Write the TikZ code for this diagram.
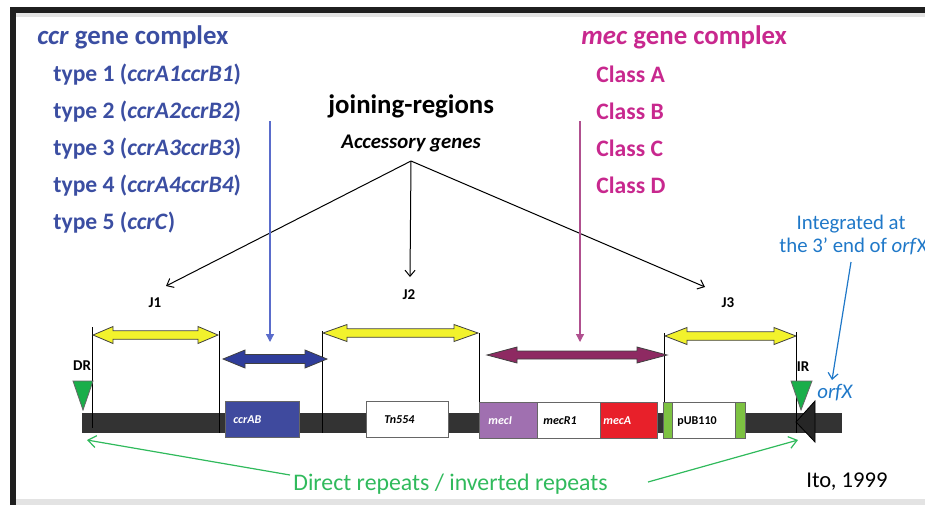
\documentclass[tikz,border=0pt]{standalone}
\usepackage{fontspec}
\setmainfont{Carlito}
\usetikzlibrary{arrows.meta}

\definecolor{ccrblue}{HTML}{3B4EA2}
\definecolor{ccrline}{HTML}{5A6CCB}
\definecolor{mecpink}{HTML}{C8288E}
\definecolor{mecline}{HTML}{B0508F}
\definecolor{orfblue}{HTML}{1F78C8}
\definecolor{repgreen}{HTML}{30BA5C}
\definecolor{trigreen}{HTML}{1AAE4A}
\definecolor{barcol}{HTML}{333333}
\definecolor{jyellow}{HTML}{F2F22C}
\definecolor{ccrarrow}{HTML}{2F3D9B}
\definecolor{mecarrow}{HTML}{8E2A62}
\definecolor{ccrbox}{HTML}{3F4A9E}
\definecolor{mecibox}{HTML}{A070B0}
\definecolor{mecabox}{HTML}{E8202A}
\definecolor{pubgreen}{HTML}{7DC242}

% double headed block arrow: fill, left x, right x, y, head length, head half width
\newcommand{\dblarrow}[6]{%
  \filldraw[fill=#1, draw=black!75, line width=0.4pt]
    (#2,#4) -- ++(#5,-#6) -- ++(0,{#6/2}) -- ({#3-#5},{#4-#6/2}) -- ++(0,{-#6/2})
    -- (#3,#4) -- ++(-#5,#6) -- ++(0,{-#6/2}) -- ({#2+#5},{#4+#6/2}) -- ++(0,{#6/2}) -- cycle;}

\tikzset{
  head/.style={anchor=base west, inner sep=0pt, font=\fontsize{13.4}{15}\selectfont\bfseries},
  item/.style={anchor=base west, inner sep=0pt, font=\fontsize{11.8}{14}\selectfont\bfseries},
  jlabel/.style={inner sep=0pt, font=\fontsize{7.5}{9}\selectfont\bfseries},
  genelabel/.style={anchor=base west, inner sep=0pt, font=\fontsize{6}{7}\selectfont\bfseries\itshape},
  genebox/.style={draw=black!60, line width=0.4pt},
  bound/.style={black, line width=0.4pt},
  pointer/.style={black, line width=0.5pt, -{Straight Barb[length=3pt,width=5pt]}},
  greenpointer/.style={repgreen, line width=0.6pt, -{Straight Barb[length=4pt,width=6pt]}},
}

\begin{document}
\begin{tikzpicture}[x=0.5pt,y=-0.5pt]
\useasboundingbox (0,0) rectangle (925,505);

% slide frame
\fill[black!88] (10,7) rectangle (925,13);
\fill[black!88] (10,7) rectangle (16,505);
\fill[gray!22] (16,13) rectangle (925,17);
\fill[gray!22] (16,499) rectangle (925,505);

% ccr gene complex
\node[head, text=ccrblue] (ccrhead) at (37,44) {\textit{ccr} gene complex};
\node[item, text=ccrblue] (type1) at (53,81) {type 1 (\textit{ccrA1ccrB1})};
\node[item, text=ccrblue] (type2) at (53,118) {type 2 (\textit{ccrA2ccrB2})};
\node[item, text=ccrblue] (type3) at (53,155) {type 3 (\textit{ccrA3ccrB3})};
\node[item, text=ccrblue] (type4) at (53,192) {type 4 (\textit{ccrA4ccrB4})};
\node[item, text=ccrblue] (type5) at (53,229) {type 5 (\textit{ccrC})};

% mec gene complex
\node[head, text=mecpink] (mechead) at (581,44) {\textit{mec} gene complex};
\node[item, text=mecpink] (classA) at (596,82) {Class A};
\node[item, text=mecpink] (classB) at (596,119) {Class B};
\node[item, text=mecpink] (classC) at (596,156) {Class C};
\node[item, text=mecpink] (classD) at (596,193) {Class D};

% joining regions
\node[head] (jr) at (328,113) {joining-regions};
\node[anchor=base west, inner sep=0pt, font=\fontsize{10.4}{12}\selectfont\bfseries\itshape] (acc) at (341,148) {Accessory genes};
\coordinate (apex) at (411,161);
\coordinate (j1tip) at (166,286);
\coordinate (j2tip) at (410,277);
\coordinate (j3tip) at (705,287);
\draw[pointer] (apex) -- (j1tip);
\draw[pointer] (apex) -- (j2tip);
\draw[pointer] (apex) -- (j3tip);

\node[jlabel] (j1) at (155,303) {J1};
\node[jlabel] (j2) at (409,295) {J2};
\node[jlabel] (j3) at (728,303) {J3};

% pointers from the complexes
\coordinate (ccrtop) at (270,121);
\coordinate (ccrtip) at (270,342);
\coordinate (mectop) at (580,121);
\coordinate (mectip) at (580,342);
\draw[ccrline, line width=0.6pt, -{Triangle[length=4pt,width=4pt]}] (ccrtop) -- (ccrtip);
\draw[mecline, line width=0.6pt, -{Triangle[length=4pt,width=4pt]}] (mectop) -- (mectip);

% integration site
\node[inner sep=0pt, anchor=base, text=orfblue, font=\fontsize{10.4}{12}\selectfont] (integ) at (851,229) {Integrated at};
\node[inner sep=0pt, anchor=base west, text=orfblue, font=\fontsize{10.4}{12}\selectfont] (end3) at (779,252) {the 3’ end of \textit{orf}X};
\coordinate (orftop) at (851,262);
\coordinate (orftip) at (832,380);
\draw[orfblue, line width=0.6pt, -{Straight Barb[length=3pt,width=5pt]}] (orftop) -- (orftip);

% the chromosome
\fill[barcol] (82,413) rectangle (842,433);
\draw[bound] (92,327) -- (92,428);
\draw[bound] (219,331) -- (219,433);
\draw[bound] (322,331) -- (322,433);
\draw[bound] (479,333) -- (479,413);
\draw[bound] (664,333) -- (664,433);

% regions
\dblarrow{jyellow}{93}{218}{335}{20}{8.5}
\dblarrow{jyellow}{323}{478}{333}{24}{8.5}
\dblarrow{jyellow}{665}{796}{336}{22}{8.5}
\dblarrow{ccrarrow}{223}{327}{359}{22}{9}
\dblarrow{mecarrow}{487}{667}{355}{30}{8}

% genes
\filldraw[genebox, fill=ccrbox] (225,401) rectangle (299,437);
\node[genelabel, text=white] (ccrab) at (233,423) {ccrAB};
\filldraw[genebox, fill=white] (366,401) rectangle (448,437);
\node[genelabel] (tn) at (384,423) {Tn554};
\filldraw[genebox, fill=mecibox] (479,402) rectangle (537,438);
\node[genelabel, text=white] (meci) at (488,424) {mecI};
\filldraw[genebox, fill=white] (537,402) rectangle (600,438);
\node[genelabel] (mecr) at (543,424) {mecR1};
\filldraw[genebox, fill=mecabox] (600,402) rectangle (657,438);
\node[genelabel, text=white] (meca) at (603,424) {mecA};
\filldraw[genebox, fill=pubgreen] (663,402) rectangle (672,438);
\filldraw[genebox, fill=white] (672,402) rectangle (735,438);
\filldraw[genebox, fill=pubgreen] (735,402) rectangle (745,438);
\node[genelabel, font=\fontsize{6}{7}\selectfont\bfseries] (pub) at (677,424) {pUB110};

% orfX end
\filldraw[fill=black!85, draw=black] (796,422) -- (815,401) -- (815,442) -- cycle;
\draw[bound] (796,332) -- (796,433);

% direct / inverted repeats
\filldraw[fill=trigreen, draw=black!60] (73,381) -- (93,381) -- (83,410) -- cycle;
\filldraw[fill=trigreen, draw=black!60] (791,381) -- (812,381) -- (801,410) -- cycle;
\node[jlabel] (dr) at (82,366) {DR};
\node[jlabel] (ir) at (803,367) {IR};
\node[inner sep=0pt, anchor=base west, text=orfblue, font=\fontsize{10.4}{12}\selectfont\itshape] (orfx) at (817,398) {orfX};

\node[inner sep=0pt, anchor=base west, text=repgreen, font=\fontsize{11.9}{14}\selectfont] (rep) at (293,490) {Direct repeats / inverted repeats};
\coordinate (repleft) at (290,475);
\coordinate (drtip) at (87,440);
\coordinate (represent) at (648,482);
\coordinate (irtip) at (798,440);
\draw[greenpointer] (repleft) -- (drtip);
\draw[greenpointer] (represent) -- (irtip);

\node[inner sep=0pt, anchor=base west, font=\fontsize{11.3}{13}\selectfont] (cite) at (806,487) {Ito, 1999};

\end{tikzpicture}
\end{document}
